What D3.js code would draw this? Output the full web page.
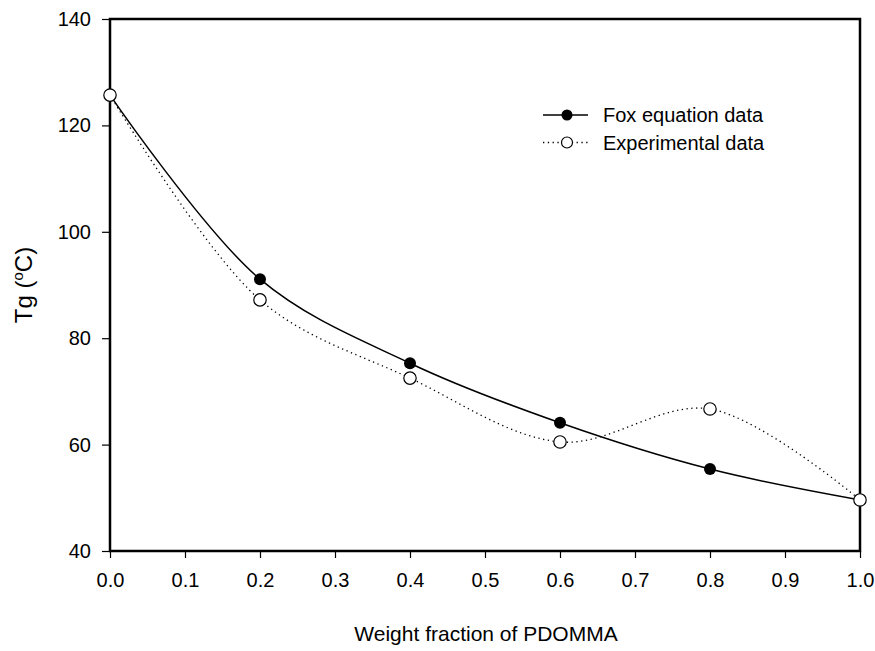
<!DOCTYPE html>
<html>
<head>
  <script src="https://d3js.org/d3.v7.min.js"></script>
  <style>
    body { margin: 0; background: #fff; }
    text { font-family: Arial, "Liberation Sans", sans-serif; fill: #000; }
  </style>
</head>
<body>
<div id="chart"></div>
<script>
// values
var fractions = [0.0, 0.2, 0.4, 0.6, 0.8, 1.0];
var foxTg = [125.7, 91.1, 75.3, 64.1, 55.4, 49.6];
var expTg = [125.7, 87.2, 72.5, 60.5, 66.7, 49.6];
var xTicks = [0, 0.1, 0.2, 0.3, 0.4, 0.5, 0.6, 0.7, 0.8, 0.9, 1.0];
var yTicks = [40, 60, 80, 100, 120, 140];

var W = 875, H = 651;
var margin = { top: 19, right: 15, bottom: 100, left: 110 };
var width = W - margin.left - margin.right;
var height = H - margin.top - margin.bottom;

var svg = d3.select('#chart').append('svg')
  .attr('width', W).attr('height', H);
var g = svg.append('g')
  .attr('transform', 'translate(' + margin.left + ',' + margin.top + ')');

var x = d3.scaleLinear().domain([0, 1]).range([0, width]);
var y = d3.scaleLinear().domain([40, 140]).range([height, 0]);

// axes
var xAxis = g.append('g')
  .attr('transform', 'translate(0,' + height + ')')
  .call(d3.axisBottom(x).tickValues(xTicks).tickFormat(d3.format('.1f')).tickSize(7).tickPadding(15));
var yAxis = g.append('g')
  .call(d3.axisLeft(y).tickValues(yTicks).tickFormat(d3.format('d')).tickSize(8).tickPadding(11));
[xAxis, yAxis].forEach(function(a) {
  a.select('.domain').remove();
  a.selectAll('text').style('font-size', '20px').attr('fill', '#000');
  a.selectAll('line').attr('stroke', '#000').attr('stroke-width', 1.2);
});

// frame
g.append('rect')
  .attr('width', width).attr('height', height)
  .attr('fill', 'none').attr('stroke', '#000').attr('stroke-width', 2.5);

var foxPts = fractions.map(function(f, i) { return [f, foxTg[i]]; });
var expPts = fractions.map(function(f, i) { return [f, expTg[i]]; });

var line = d3.line()
  .x(function(d) { return x(d[0]); })
  .y(function(d) { return y(d[1]); })
  .curve(d3.curveCatmullRom.alpha(0.5));

g.append('path').datum(foxPts)
  .attr('d', line).attr('fill', 'none')
  .attr('stroke', '#000').attr('stroke-width', 1.5);
g.append('path').datum(expPts)
  .attr('d', line).attr('fill', 'none')
  .attr('stroke', '#000').attr('stroke-width', 1.3)
  .attr('stroke-dasharray', '1.3,3.5');

g.selectAll('.fox').data(foxPts).enter().append('circle')
  .attr('class', 'fox')
  .attr('cx', function(d) { return x(d[0]); })
  .attr('cy', function(d) { return y(d[1]); })
  .attr('r', 6).attr('fill', '#000');
g.selectAll('.exp').data(expPts).enter().append('circle')
  .attr('class', 'exp')
  .attr('cx', function(d) { return x(d[0]); })
  .attr('cy', function(d) { return y(d[1]); })
  .attr('r', 6.2).attr('fill', '#fff')
  .attr('stroke', '#000').attr('stroke-width', 1.2);

// legend
var leg = svg.append('g');
leg.append('line').attr('x1', 543).attr('x2', 588).attr('y1', 115).attr('y2', 115)
  .attr('stroke', '#000').attr('stroke-width', 1.5);
leg.append('circle').attr('cx', 567).attr('cy', 115).attr('r', 5.5).attr('fill', '#000');
leg.append('text').attr('x', 603).attr('y', 122).style('font-size', '20px').text('Fox equation data');
leg.append('line').attr('x1', 543).attr('x2', 588).attr('y1', 142.5).attr('y2', 142.5)
  .attr('stroke', '#000').attr('stroke-width', 1.3).attr('stroke-dasharray', '1.3,3.5');
leg.append('circle').attr('cx', 567).attr('cy', 142.5).attr('r', 5.5).attr('fill', '#fff')
  .attr('stroke', '#000').attr('stroke-width', 1.2);
leg.append('text').attr('x', 603).attr('y', 150).style('font-size', '20px').text('Experimental data');

// axis titles
svg.append('text')
  .attr('x', 486).attr('y', 641)
  .attr('text-anchor', 'middle').style('font-size', '21px')
  .text('Weight fraction of PDOMMA');
var yl = svg.append('text')
  .attr('transform', 'translate(32,285) rotate(-90)')
  .attr('text-anchor', 'middle').style('font-size', '24px');
yl.append('tspan').text('Tg (');
yl.append('tspan').attr('dy', -9).style('font-size', '15px').text('o');
yl.append('tspan').attr('dy', 9).text('C)');
</script>
</body>
</html>
